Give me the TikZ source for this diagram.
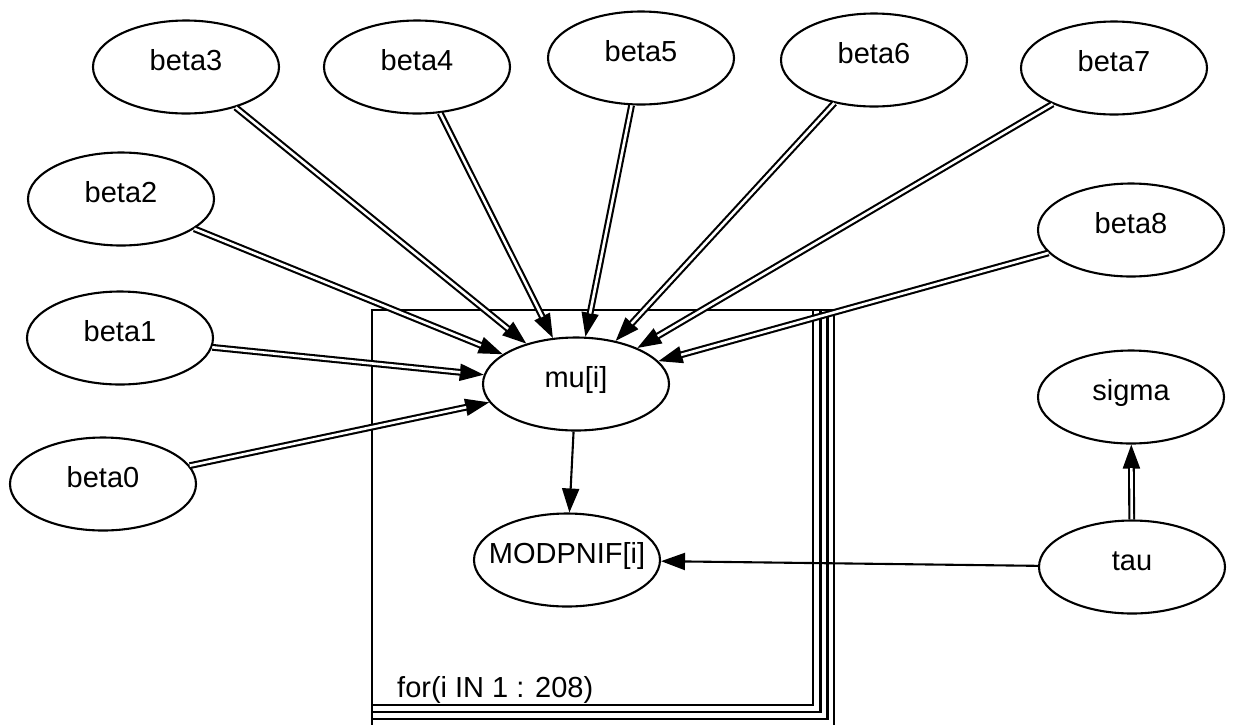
\documentclass[tikz,border=0pt]{standalone}
\usepackage{fontspec}
\setmainfont{Liberation Sans}
\usetikzlibrary{arrows.meta,shapes.geometric}
\newcommand{\lbl}[1]{\makebox[0pt]{#1}}
\tikzset{
  var/.style={ellipse, draw, line width=2.1pt, fill=white,
    minimum width=186pt, minimum height=93pt, inner sep=0pt,
    font=\fontsize{29}{32}\selectfont, text height=20pt, text depth=13pt},
  platebox/.style={draw, line width=2.1pt},
  platelabel/.style={font=\fontsize{29}{32}\selectfont, inner sep=0pt},
  tip/.style={line width=2.1pt, -{Triangle[length=24pt,width=17pt]}},
  dbl/.style={line width=2.1pt, double=white, double distance=2.6pt, shorten >=23.5pt}
}
\begin{document}
\begin{tikzpicture}[x=1pt,y=-1pt]
  \useasboundingbox (0,0) rectangle (1237,724);
  \fill[white] (0,0) rectangle (1237,724);
  \clip (0,0) rectangle (1237,724);

  % stacked plate for the loop over i
  \draw[platebox] (372,310) rectangle (834,726);
  \draw[platebox] (372,310) rectangle (827.5,719);
  \draw[platebox] (372,310) rectangle (820.5,712);
  \draw[platebox, fill=white] (372,310) rectangle (813,705);
  \node[platelabel, anchor=base west] (loop) at (397,697) {for(i IN 1 : 208)};

  % variables
  \node[var] (b3) at (186,67)  {\lbl{beta3}};
  \node[var] (b4) at (417,67)  {\lbl{beta4}};
  \node[var] (b5) at (641,58)  {\lbl{beta5}};
  \node[var] (b6) at (874,60)  {\lbl{beta6}};
  \node[var] (b7) at (1114,68) {\lbl{beta7}};
  \node[var] (b2) at (121,199) {\lbl{beta2}};
  \node[var] (b8) at (1131,230) {\lbl{beta8}};
  \node[var] (b1) at (120,338) {\lbl{beta1}};
  \node[var] (b0) at (103,484) {\lbl{beta0}};
  \node[var] (mu) at (576,384) {\lbl{mu[i]}};
  \node[var] (mod) at (567,560) {\lbl{MODPNIF[i]}};
  \node[var] (sigma) at (1131,397) {\lbl{sigma}};
  \node[var] (tau) at (1132,567) {\lbl{tau}};

  % deterministic (double) links into mu[i]
  \foreach \b in {b0,b1,b2,b3,b4,b5,b6,b7,b8} {
    \draw[tip] (\b) -- (mu);
    \draw[dbl] (\b) -- (mu);
  }
  \draw[tip] (tau) -- (sigma);
  \draw[dbl] (tau) -- (sigma);

  % stochastic links
  \draw[tip] (mu) -- (mod);
  \draw[tip] (tau) -- (mod);
\end{tikzpicture}
\end{document}
